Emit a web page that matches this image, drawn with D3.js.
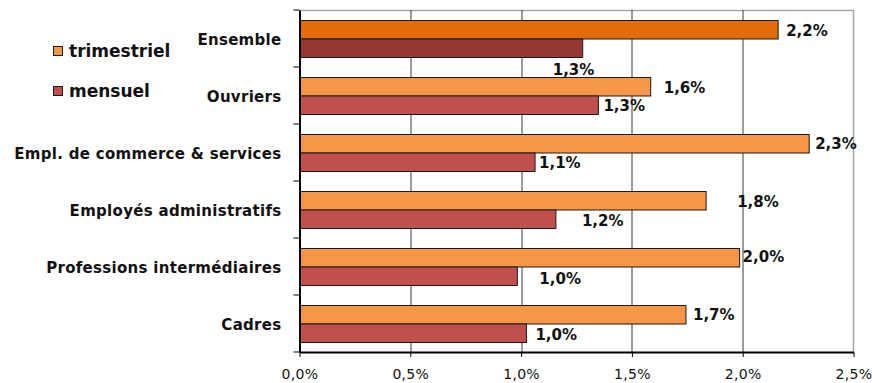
<!DOCTYPE html>
<html>
<head>
<meta charset="utf-8">
<script src="https://cdn.jsdelivr.net/npm/d3@7"></script>
<style>
  html, body { margin: 0; padding: 0; background: #fff; }
  svg { display: block; }
</style>
</head>
<body>
<svg id="chart" width="872" height="383"></svg>
<script>
// Categories, top to bottom
const categories = [
  "Ensemble",
  "Ouvriers",
  "Empl. de commerce & services",
  "Employés administratifs",
  "Professions intermédiaires",
  "Cadres"
];
// Rise in percent, quarterly and monthly
const trimestriel = [2.16, 1.585, 2.30, 1.835, 1.986, 1.744];
const mensuel     = [1.278, 1.349, 1.063, 1.157, 0.983, 1.024];
const seriesNames = ["trimestriel", "mensuel"];
const xTicks = [0, 0.5, 1, 1.5, 2, 2.5];

// Label nudges (px) relative to bar end / bar centre
const labelOffsetsTri = [[8, 0.5], [13, 1], [6, 0], [31, 0.5], [3, -1], [7, 0]];
const labelOffsetsMen = [[-30, 21.5], [5, 0.5], [4, 0.5], [26, 1], [22, 2.5], [9, 1.5]];

const fmt = v => d3.format(".1f")(v).replace(".", ",") + "%";
const fmtTick = v => d3.format(".1f")(v).replace(".", ",") + "%";

const svg = d3.select("#chart");
const margin = { left: 299.5, right: 18.5, top: 10, bottom: 31 };
const W = 872, H = 383;
const plotW = W - margin.left - margin.right;
const plotH = H - margin.top - margin.bottom;

const x = d3.scaleLinear().domain([0, 2.5]).range([0, plotW]);
const y0 = d3.scaleBand().domain(categories).range([0, plotH]).paddingInner(0).paddingOuter(0);
const y1 = d3.scaleBand().domain(seriesNames).range([10.5, y0.bandwidth() - 9.5]);

const g = svg.append("g").attr("transform", `translate(${margin.left},${margin.top})`);

// plot frame (top/right)
g.append("path")
  .attr("d", `M0,0.5H${plotW}V${plotH}`)
  .attr("fill", "none").attr("stroke", "#a6a6a6").attr("stroke-width", 1.5);

// vertical gridlines
g.append("g").selectAll("line")
  .data(xTicks.filter(t => t > 0 && t < 2.5))
  .join("line")
  .attr("x1", d => Math.round(x(d)) + 0.5).attr("x2", d => Math.round(x(d)) + 0.5)
  .attr("y1", 0).attr("y2", plotH)
  .attr("stroke", "#3a3a3a").attr("stroke-width", 1);

const fillTri = (d, i) => i === 0 ? "#E36C0A" : "#F79646";
const fillMen = (d, i) => i === 0 ? "#953735" : "#C0504D";

// bars
const barG = g.append("g");
barG.selectAll("rect.tri").data(trimestriel).join("rect")
  .attr("class", "tri")
  .attr("x", 0)
  .attr("y", (d, i) => y0(categories[i]) + y1("trimestriel"))
  .attr("width", d => x(d))
  .attr("height", y1.bandwidth())
  .attr("fill", fillTri)
  .attr("stroke", "#1a1a1a").attr("stroke-width", 1);
barG.selectAll("rect.men").data(mensuel).join("rect")
  .attr("class", "men")
  .attr("x", 0)
  .attr("y", (d, i) => y0(categories[i]) + y1("mensuel"))
  .attr("width", d => x(d))
  .attr("height", y1.bandwidth())
  .attr("fill", fillMen)
  .attr("stroke", "#1a1a1a").attr("stroke-width", 1);

// value labels
const labFont = "'DejaVu Sans', Verdana, sans-serif";
const labG = g.append("g")
  .attr("font-family", labFont).attr("font-weight", "bold")
  .attr("font-size", 15).attr("fill", "#111");
labG.selectAll("text.tri").data(trimestriel).join("text")
  .attr("class", "tri")
  .attr("x", (d, i) => x(d) + labelOffsetsTri[i][0])
  .attr("y", (d, i) => y0(categories[i]) + y1("trimestriel") + y1.bandwidth() / 2 + labelOffsetsTri[i][1])
  .attr("dy", "0.35em")
  .text(fmt);
labG.selectAll("text.men").data(mensuel).join("text")
  .attr("class", "men")
  .attr("x", (d, i) => x(d) + labelOffsetsMen[i][0])
  .attr("y", (d, i) => y0(categories[i]) + y1("mensuel") + y1.bandwidth() / 2 + labelOffsetsMen[i][1])
  .attr("dy", "0.35em")
  .text(fmt);

// y axis
const yAxis = g.append("g")
  .call(d3.axisLeft(y0).tickSize(0).tickPadding(18).tickSizeOuter(0));
yAxis.select(".domain").attr("stroke", "#000").attr("stroke-width", 2);
yAxis.selectAll("text")
  .attr("font-family", labFont).attr("font-weight", "bold")
  .attr("font-size", 15).attr("letter-spacing", 0.3).attr("fill", "#111")
  .attr("dy", "0.45em");
// category boundary ticks
g.append("g").selectAll("line")
  .data(d3.range(categories.length + 1))
  .join("line")
  .attr("x1", -6).attr("x2", 0)
  .attr("y1", i => i * y0.step()).attr("y2", i => i * y0.step())
  .attr("stroke", "#000").attr("stroke-width", 1);

// x axis
const xAxis = g.append("g").attr("transform", `translate(0,${plotH})`)
  .call(d3.axisBottom(x).tickValues(xTicks).tickFormat(fmtTick).tickSize(5).tickSizeOuter(0).tickPadding(12));
xAxis.select(".domain").attr("stroke", "#000").attr("stroke-width", 2);
xAxis.selectAll(".tick line").attr("stroke", "#000");
xAxis.selectAll("text")
  .attr("font-family", labFont).attr("font-size", 14).attr("letter-spacing", 0.3).attr("fill", "#111");

// legend
const legend = svg.append("g").attr("transform", "translate(53,0)");
const legendRows = [
  { name: seriesNames[0], color: "#F79646", y: 46 },
  { name: seriesNames[1], color: "#C0504D", y: 86 }
];
legend.selectAll("rect").data(legendRows).join("rect")
  .attr("x", 0.5).attr("y", d => d.y + 0.5).attr("width", 9).attr("height", 9)
  .attr("fill", d => d.color).attr("stroke", "#1a1a1a").attr("stroke-width", 1);
legend.selectAll("text").data(legendRows).join("text")
  .attr("x", 16).attr("y", d => d.y + 5).attr("dy", "0.35em")
  .attr("font-family", labFont).attr("font-weight", "bold")
  .attr("font-size", 17).attr("fill", "#111")
  .text(d => d.name);
</script>
</body>
</html>
